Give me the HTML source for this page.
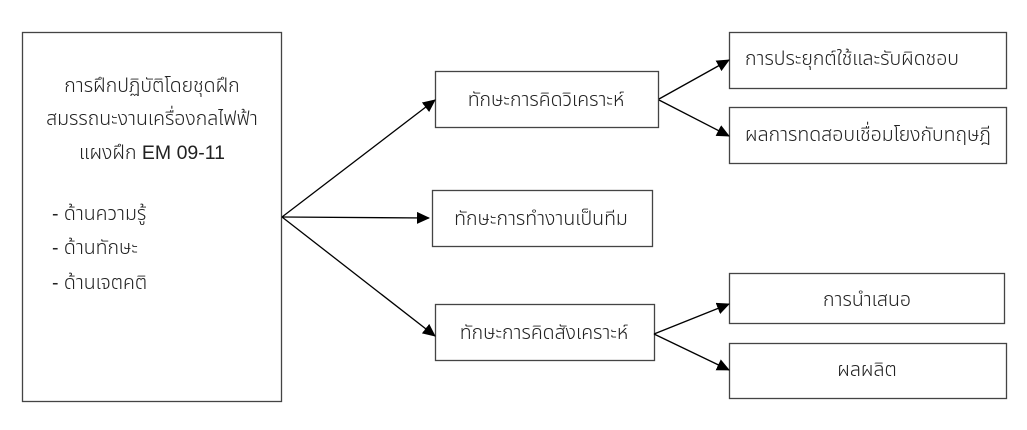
<!DOCTYPE html>
<html><head><meta charset="utf-8"><style>
html,body{margin:0;padding:0;background:#fff;width:1027px;height:430px;overflow:hidden}
svg text{font-family:"Liberation Sans","Noto Sans Thai","Garuda","Loma",sans-serif;font-size:19.5px;fill:#222;font-weight:300}
</style></head><body>
<svg width="1027" height="430" viewBox="0 0 1027 430" xmlns="http://www.w3.org/2000/svg">
<defs><marker id="a" markerWidth="13" markerHeight="12" refX="12" refY="6" orient="auto" markerUnits="userSpaceOnUse"><path d="M0,0 L13,6 L0,12 z" fill="#000"/></marker></defs>
<g fill="#fff" stroke="#444" stroke-width="1.3">
<rect x="22.5" y="32.5" width="259" height="369"/>
<rect x="435.5" y="71.5" width="223" height="56"/>
<rect x="432.5" y="190.5" width="220" height="56"/>
<rect x="435.5" y="304.5" width="219" height="56"/>
<rect x="729.5" y="32.5" width="277" height="56"/>
<rect x="729.5" y="107.5" width="277" height="56"/>
<rect x="729.5" y="273.5" width="275" height="50"/>
<rect x="729.5" y="343.5" width="277" height="55"/>
</g>
<g stroke="#000" stroke-width="1.3" marker-end="url(#a)">
<line x1="282" y1="217" x2="435" y2="100"/>
<line x1="282" y1="217" x2="429" y2="218"/>
<line x1="282" y1="217" x2="435" y2="336"/>
<line x1="659" y1="99" x2="729" y2="60"/>
<line x1="659" y1="100" x2="729" y2="136"/>
<line x1="654" y1="334" x2="729" y2="304"/>
<line x1="654" y1="334" x2="729" y2="370"/>
</g>
<g text-anchor="middle">
<text x="152" y="92">การฝึกปฏิบัติโดยชุดฝึก</text>
<text x="152" y="125">สมรรถนะงานเครื่องกลไฟฟ้า</text>
<text x="152" y="159">แผงฝึก EM 09-11</text>
<text x="546" y="106">ทักษะการคิดวิเคราะห์</text>
<text x="541" y="225">ทักษะการทำงานเป็นทีม</text>
<text x="544" y="339">ทักษะการคิดสังเคราะห์</text>
<text x="867" y="306">การนำเสนอ</text>
<text x="867" y="376">ผลผลิต</text>
</g>
<text x="52" y="220">- ด้านความรู้</text>
<text x="52" y="254">- ด้านทักษะ</text>
<text x="52" y="289">- ด้านเจตคติ</text>
<text x="745" y="65">การประยุกต์ใช้และรับผิดชอบ</text>
<text x="745" y="141">ผลการทดสอบเชื่อมโยงกับทฤษฎี</text>
</svg>
</body></html>
